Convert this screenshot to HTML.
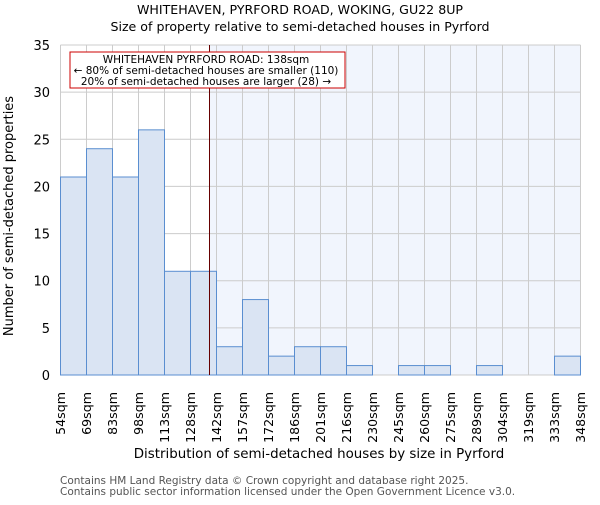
<!DOCTYPE html><html><head><style>body{margin:0;background:#fff}svg text{font-family:"DejaVu Sans","Liberation Sans",sans-serif}</style></head><body>
<svg width="600" height="500" xmlns="http://www.w3.org/2000/svg">
<text x="300" y="14" font-size="12.6" text-anchor="middle">WHITEHAVEN, PYRFORD ROAD, WOKING, GU22 8UP</text>
<text x="300" y="31" font-size="12.6" text-anchor="middle">Size of property relative to semi-detached houses in Pyrford</text>
<rect x="209.5" y="45" width="371" height="330" fill="#f1f5fd"/>
<g id="grid" stroke="#cccccc" stroke-width="1"></g>
<g id="bars"></g>
<line x1="209.5" y1="45" x2="209.5" y2="375" stroke="#660000" stroke-width="1"/>
<rect x="70" y="52" width="275" height="36" fill="#fff" stroke="#cc0000" stroke-width="1"/>
<text x="206" y="63" font-size="10.5" text-anchor="middle">WHITEHAVEN PYRFORD ROAD: 138sqm</text>
<text x="206" y="74" font-size="10.5" text-anchor="middle">← 80% of semi-detached houses are smaller (110)</text>
<text x="206" y="85" font-size="10.5" text-anchor="middle">20% of semi-detached houses are larger (28) →</text>
<g id="yt" font-size="13" text-anchor="end"></g>
<g id="xt" font-size="12.6"></g>
<text transform="translate(13,216) rotate(-90)" font-size="13" text-anchor="middle">Number of semi-detached properties</text>
<text x="319" y="458" font-size="13.4" text-anchor="middle">Distribution of semi-detached houses by size in Pyrford</text>
<text x="60" y="484" font-size="10.5" fill="#555">Contains HM Land Registry data © Crown copyright and database right 2025.</text>
<text x="60" y="495" font-size="10.5" fill="#555">Contains public sector information licensed under the Open Government Licence v3.0.</text>
</svg>
<script>
var ns="http://www.w3.org/2000/svg";
function el(p,t,a,txt){var e=document.createElementNS(ns,t);for(var k in a)e.setAttribute(k,a[k]);if(txt)e.textContent=txt;document.getElementById(p).appendChild(e);}
var v=[21,24,21,26,11,11,3,8,2,3,3,1,0,1,1,0,1,0,0,2];
var lab=["54sqm","69sqm","83sqm","98sqm","113sqm","128sqm","142sqm","157sqm","172sqm","186sqm","201sqm","216sqm","230sqm","245sqm","260sqm","275sqm","289sqm","304sqm","319sqm","333sqm","348sqm"];
var x0=60.5,w=26.0,y0=375,u=330/35;
for(var i=0;i<=20;i++){var x=x0+i*w;el("grid","line",{x1:x,y1:45,x2:x,y2:375});
el("xt","text",{transform:"translate("+(x+4.5)+",392) rotate(-90)","text-anchor":"end"},lab[i]);}
for(var j=0;j<=7;j++){var y=y0-j*5*u;el("grid","line",{x1:60.5,y1:y,x2:580.5,y2:y});
el("yt","text",{x:50,y:y+5},String(j*5));}
for(var i=0;i<20;i++){if(!v[i])continue;var h=v[i]*u;
el("bars","rect",{x:x0+i*w,y:y0-h,width:w,height:h,fill:"#dae4f3",stroke:"#5a8ed0","stroke-width":1});}
</script>
</body></html>
